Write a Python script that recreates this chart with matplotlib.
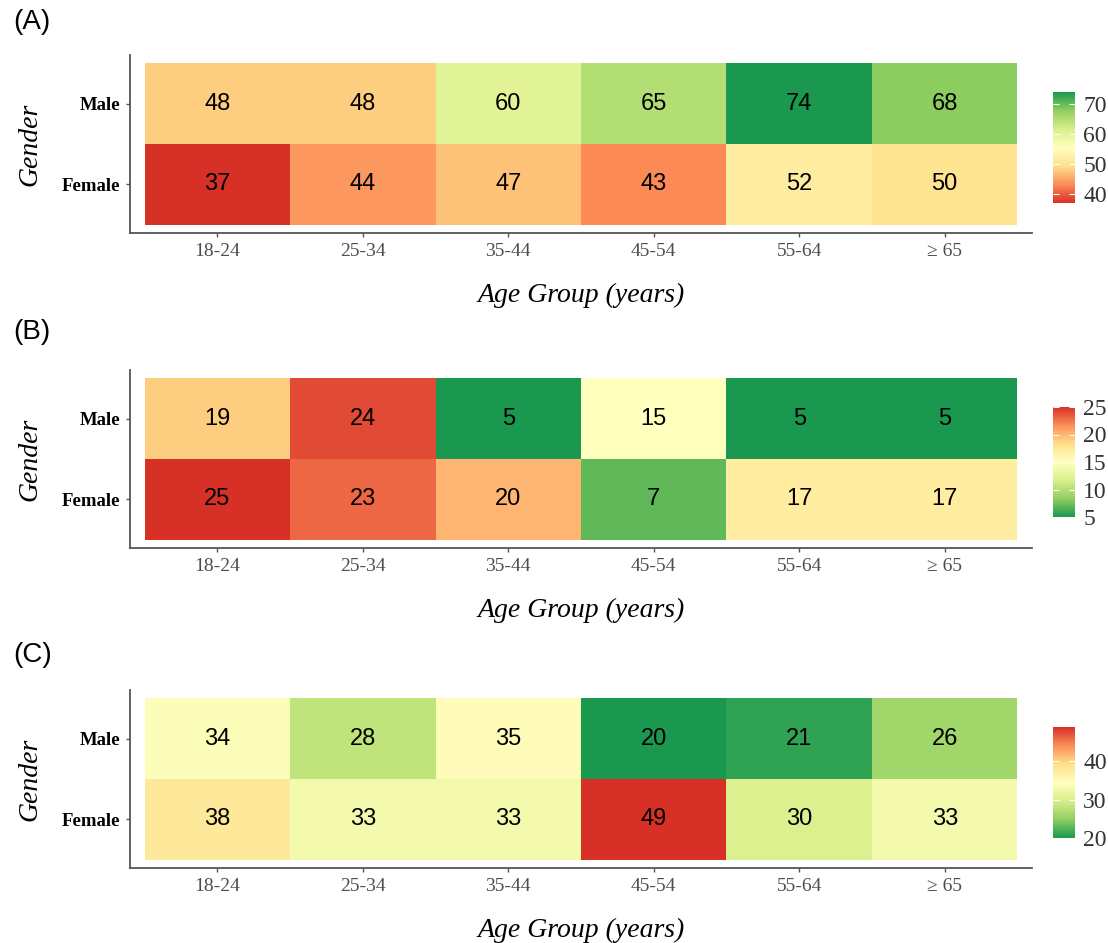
import numpy as np
import matplotlib
matplotlib.use("Agg")
import matplotlib.pyplot as plt
from matplotlib.colors import Normalize, LinearSegmentedColormap
import matplotlib.cm as cm

plt.rcParams["font.family"] = ["Liberation Serif", "DejaVu Serif"]

# ---- data ----
age_groups = ["18-24", "25-34", "35-44", "45-54", "55-64", "\u2265 65"]
genders = ["Female", "Male"]  # bottom to top
panel_labels = ["(A)", "(B)", "(C)"]

a_male = [48, 48, 60, 65, 74, 68]
a_female = [37, 44, 47, 43, 52, 50]
b_male = [19, 24, 5, 15, 5, 5]
b_female = [25, 23, 20, 7, 17, 17]
c_male = [34, 28, 35, 20, 21, 26]
c_female = [38, 33, 33, 49, 30, 33]

a_ticks = [40, 50, 60, 70]
b_ticks = [5, 10, 15, 20, 25]
c_ticks = [20, 30, 40]

# ColorBrewer RdYlGn (7-class)
rdylgn7 = ["#d73027", "#fc8d59", "#fee08b", "#ffffbf", "#d9ef8b", "#91cf60", "#1a9850"]
cmap_up = LinearSegmentedColormap.from_list("rdylgn7", rdylgn7, N=256)
cmap_down = LinearSegmentedColormap.from_list("rdylgn7_r", rdylgn7[::-1], N=256)

W, H = 1108, 943
fig = plt.figure(figsize=(W / 100, H / 100), dpi=100)

def rect(x0, y0, x1, y1):
    return [x0 / W, 1 - y1 / H, (x1 - x0) / W, (y1 - y0) / H]

panels = [
    (a_male, a_female, cmap_up, a_ticks, (130, 55, 1032, 233), (1053, 92, 1075, 203), 22),
    (b_male, b_female, cmap_down, b_ticks, (130, 370, 1032, 548), (1053, 407, 1075, 517), 332),
    (c_male, c_female, cmap_down, c_ticks, (130, 690, 1032, 868), (1053, 727, 1075, 838), 655),
]

sans = ["Liberation Sans", "DejaVu Sans"]
grey = "#4d4d4d"

for i, (male, female, cmap, ticks, arect, crect, ly) in enumerate(panels):
    ax = fig.add_axes(rect(*arect))
    data = np.array([female, male], dtype=float)
    vmin, vmax = data.min(), data.max()
    norm = Normalize(vmin=vmin, vmax=vmax)
    xe = np.arange(len(age_groups) + 1) - 0.5
    ye = np.arange(len(genders) + 1) - 0.5
    ax.pcolormesh(xe, ye, data, cmap=cmap, norm=norm, edgecolors="none", antialiased=False)
    for r in range(data.shape[0]):
        for c in range(data.shape[1]):
            ax.text(c, r, f"{int(data[r, c])}", ha="center", va="center",
                    fontsize=17, family=sans, color="black")
    ax.set_xlim(-0.6, len(age_groups) - 0.4)
    ax.set_ylim(-0.6, len(genders) - 0.4)
    ax.set_xticks(range(len(age_groups)))
    ax.set_xticklabels(age_groups, fontsize=14, color=grey)
    ax.set_yticks(range(len(genders)))
    ax.set_yticklabels(genders, fontsize=13.5, fontweight="bold", color="black")
    for s in ["top", "right"]:
        ax.spines[s].set_visible(False)
    for s in ["left", "bottom"]:
        ax.spines[s].set_color("#555555")
        ax.spines[s].set_linewidth(1.3)
    ax.tick_params(axis="both", length=3, width=1, color="#555555", pad=4)
    ax.set_xlabel("Age Group (years)", style="italic", fontsize=20, labelpad=17)
    ax.set_ylabel("Gender", style="italic", fontsize=20, labelpad=14)

    cax = fig.add_axes(rect(*crect))
    cb = fig.colorbar(cm.ScalarMappable(norm=norm, cmap=cmap), cax=cax, ticks=ticks)
    cb.outline.set_visible(False)
    cax.tick_params(axis="y", direction="in", left=True, right=True, color="white",
                    length=4, width=0.8, labelsize=17, labelcolor="#333333", pad=6)

    fig.text(13 / W, 1 - ly / H, panel_labels[i], family=sans, fontsize=20,
             ha="left", va="center")

fig.savefig("out.png", dpi=100)
